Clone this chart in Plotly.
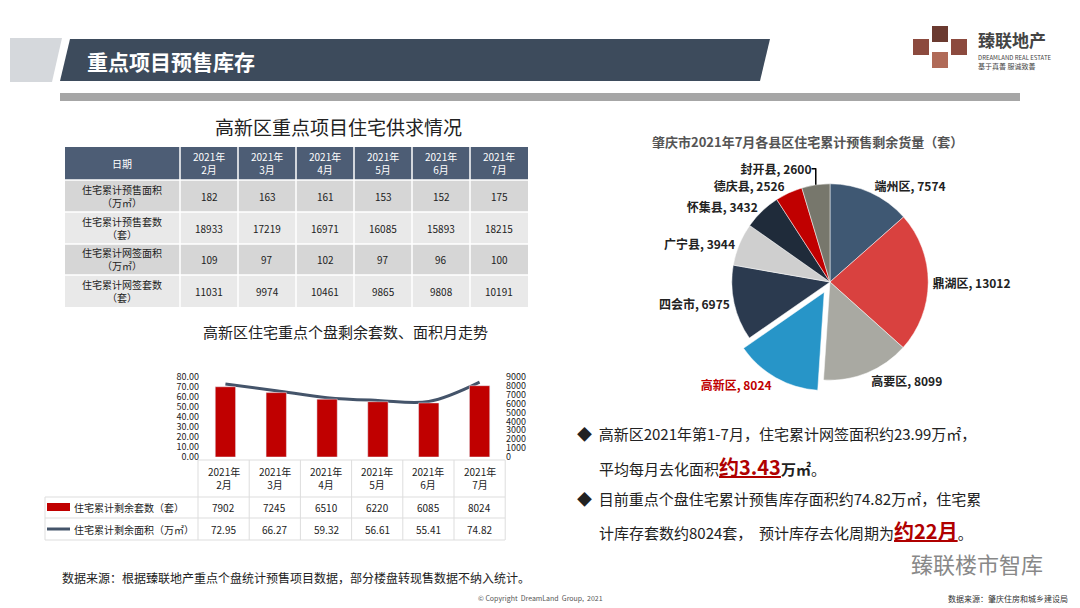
import plotly.graph_objects as go

months = ["2021年<br>2月", "2021年<br>3月", "2021年<br>4月", "2021年<br>5月", "2021年<br>6月", "2021年<br>7月"]
row_names = ["住宅累计预售面积<br>（万㎡）", "住宅累计预售套数<br>（套）", "住宅累计网签面积<br>（万㎡）", "住宅累计网签套数<br>（套）"]
presale_area = [182, 163, 161, 153, 152, 175]
presale_units = [18933, 17219, 16971, 16085, 15893, 18215]
signed_area = [109, 97, 102, 97, 96, 100]
signed_units = [11031, 9974, 10461, 9865, 9808, 10191]

remain_units = [7902, 7245, 6510, 6220, 6085, 8024]
remain_area = [72.95, 66.27, 59.32, 56.61, 55.41, 74.82]

districts = ["端州区", "鼎湖区", "高要区", "高新区", "四会市", "广宁县", "怀集县", "德庆县", "封开县"]
district_units = [7574, 13012, 8099, 8024, 6975, 3944, 3432, 2526, 2600]
district_colors = ["#3f5873", "#d9413f", "#a9a9a2", "#2795c8", "#2b3a4f", "#cfcfcf", "#1f2b3a", "#c00000", "#77776c"]

W, H = 1080, 608
FONT = "Noto Sans CJK SC"


def px(x):
    return x / W


def py(y):
    return 1 - y / H


shapes = []
ann = []


def rect(x0, y0, x1, y1, fill):
    shapes.append(dict(type="rect", xref="paper", yref="paper", x0=px(x0), x1=px(x1), y0=py(y1), y1=py(y0),
                       fillcolor=fill, line_width=0))


def hline(x0, x1, y, color, width=1):
    shapes.append(dict(type="line", xref="paper", yref="paper", x0=px(x0), x1=px(x1), y0=py(y), y1=py(y),
                       line=dict(color=color, width=width)))


def vline(x, y0, y1, color, width=1):
    shapes.append(dict(type="line", xref="paper", yref="paper", x0=px(x), x1=px(x), y0=py(y0), y1=py(y1),
                       line=dict(color=color, width=width)))


def text(x, y, t, size=10, color="#222", anchor="center"):
    ann.append(dict(x=px(x), y=py(y), text=t, xref="paper", yref="paper", showarrow=False,
                    xanchor=anchor, yanchor="middle", font=dict(size=size, color=color, family=FONT)))


fig = go.Figure()

# header band
shapes.append(dict(type="path", xref="paper", yref="paper", fillcolor="#d5d8dc", line_width=0,
                   path="M %f %f L %f %f L %f %f L %f %f Z" % (px(10), py(38), px(62), py(38), px(52), py(82), px(10), py(82))))
shapes.append(dict(type="path", xref="paper", yref="paper", fillcolor="#3d4b5c", line_width=0,
                   path="M %f %f L %f %f L %f %f L %f %f Z" % (px(70), py(39), px(770), py(39), px(760), py(81), px(60), py(81))))
rect(60, 93, 1020, 101, "#a6a6a6")
for cx, cy, c in [(921, 47, "#8c4a3e"), (940, 60, "#b06a58"), (959, 47, "#8c4a3e"), (940, 34, "#6b3a30")]:
    rect(cx - 8, cy - 8, cx + 8, cy + 8, c)
text(85, 61, "<b>重点项目预售库存</b>", 21, "white", "left")
text(976, 40, "<b>臻联地产</b>", 17, "#444", "left")
text(976, 57, "DREAMLAND REAL ESTATE", 6, "#444", "left")
text(976, 66, "基于真善 服诚致善", 7, "#444", "left")

# supply table
text(338, 126, "高新区重点项目住宅供求情况", 19)
col_x = [65, 180] + [180 + 58 * (i + 1) for i in range(6)]
row_y = [147, 180, 212, 244, 275, 307]
rect(65, 147, 528, 180, "#4d5d75")
text(122, 163, "日期", 10, "white")
for i, m in enumerate(months):
    text((col_x[i + 1] + col_x[i + 2]) / 2, 163, m, 10, "white")
table_rows = [presale_area, presale_units, signed_area, signed_units]
for r, (name, vals) in enumerate(zip(row_names, table_rows)):
    y0, y1 = row_y[r + 1], row_y[r + 2]
    rect(65, y0, 528, y1, "#d6d6d6" if r % 2 == 0 else "#e9e9e9")
    text(122, (y0 + y1) / 2, name, 10)
    for i, v in enumerate(vals):
        text((col_x[i + 1] + col_x[i + 2]) / 2, (y0 + y1) / 2, str(v), 10)
for x in col_x[1:-1]:
    vline(x, 147, 307, "white", 1.5)
for y in row_y[1:-1]:
    hline(65, 528, y, "white", 1.5)

# combo chart
text(345, 331, "高新区住宅重点个盘剩余套数、面积月走势", 15)
fig.add_trace(go.Bar(x=months, y=remain_units, marker_color="#c00000", width=0.4,
                     yaxis="y2", showlegend=False))
fig.add_trace(go.Scatter(x=months, y=remain_area, mode="lines",
                         line=dict(color="#44546a", width=3, shape="spline"), showlegend=False))

# data table under chart
dcol = [198 + 51.2 * i for i in range(7)]
vline(45, 497, 540, "#dddddd")
for x in dcol:
    vline(x, 460, 540, "#dddddd")
hline(198, 505, 460, "#dddddd")
for y in [497, 518, 540]:
    hline(45, 505, y, "#dddddd")
for i, m in enumerate(months):
    cx = (dcol[i] + dcol[i + 1]) / 2
    text(cx, 478, m, 10)
    text(cx, 507, str(remain_units[i]), 10)
    text(cx, 529, "%.2f" % remain_area[i], 10)
rect(47, 503, 70, 511, "#c00000")
hline(47, 70, 529, "#44546a", 3)
text(72, 507, "住宅累计剩余套数（套）", 10, anchor="left")
text(72, 529, "住宅累计剩余面积（万㎡）", 10, anchor="left")

# pie
text(807, 141, "<b>肇庆市2021年7月各县区住宅累计预售剩余货量（套）</b>", 13, "#555")
fig.add_trace(go.Pie(labels=districts, values=district_units, sort=False, direction="clockwise", rotation=0,
                     marker=dict(colors=district_colors, line=dict(color="white", width=0.5)),
                     pull=[0, 0, 0, 0.12, 0, 0, 0, 0, 0],
                     texttemplate="<b>%{label}, %{value:.0f}</b>", textposition="outside",
                     textfont=dict(size=12, family=FONT, color=["#222"] * 3 + ["#c00000"] + ["#222"] * 5),
                     domain=dict(x=[px(620), px(1040)], y=[py(392), py(172)]), showlegend=False))

# commentary
text(575, 433, "◆  高新区2021年第1-7月，住宅累计网签面积约23.99万㎡，", 15, anchor="left")
text(597, 466, "平均每月去化面积<span style='color:#b00000;font-size:20px'><b><u>约3.43</u></b></span><b>万㎡</b>。", 15, anchor="left")
text(575, 498, "◆  目前重点个盘住宅累计预售库存面积约74.82万㎡，住宅累", 15, anchor="left")
text(597, 530, "计库存套数约8024套，  预计库存去化周期为<span style='color:#b00000;font-size:20px'><b><u>约22月</u></b></span>。", 15, anchor="left")
text(60, 577, "数据来源：根据臻联地产重点个盘统计预售项目数据，部分楼盘转现售数据不纳入统计。", 12, anchor="left")
text(540, 598, "© Copyright  DreamLand  Group,  2021", 7, "#555")
text(1070, 598, "数据来源：肇庆住房和城乡建设局", 8, "#333", "right")
text(1045, 563, "臻联楼市智库", 22, "#888", "right")

fig.update_layout(
    width=W, height=H, margin=dict(l=0, r=0, t=0, b=0, autoexpand=False),
    paper_bgcolor="white", plot_bgcolor="white",
    font=dict(family=FONT),
    xaxis=dict(domain=[px(200), px(505)], showticklabels=False, showgrid=False, automargin=False),
    yaxis=dict(domain=[py(457), py(377)], range=[0, 80], dtick=10, tickformat=".2f", showgrid=False,
               tickfont=dict(size=9, color="#222"), zeroline=False, automargin=False),
    yaxis2=dict(overlaying="y", side="right", range=[0, 9000], dtick=1000, showgrid=False,
                tickfont=dict(size=9, color="#222"), zeroline=False, automargin=False),
    shapes=shapes, annotations=ann,
)
fig.write_html("out.html", config={"displayModeBar": False}, post_script="document.body.style.margin='0';")
